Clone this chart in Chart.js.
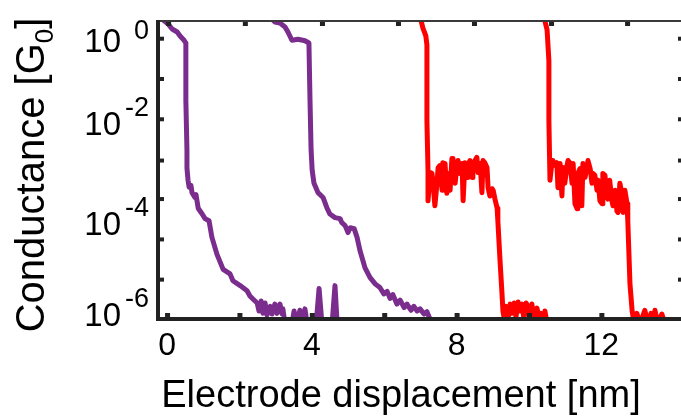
<!DOCTYPE html>
<html>
<head>
<meta charset="utf-8">
<script src="https://cdn.jsdelivr.net/npm/chart.js@4"></script>
<style>
  html,body{margin:0;padding:0;background:#fff;}
  #wrap{width:681px;height:417px;}
</style>
</head>
<body>
<div id="wrap"><canvas id="chart" width="681" height="417"></canvas></div>
<script>
/* ===== conductance traces vs electrode displacement ===== */

// axis ticks
const X_TICKS = [0, 4, 8, 12];                          // labelled bottom ticks
const X_MINOR = [0, 2, 4, 6, 8, 10, 12];                // small inward marks on the bottom
const TOP_TICKS = [0.03, 2.15, 4.28, 6.38, 8.48, 10.61, 12.71];
const SIDE_TICKS = [0.44, 0.068, 0.0105, 1.55e-3, 2.6e-4, 4.0e-5, 6.2e-6];
const Y_TICKS = [1, 1e-2, 1e-4, 1e-6];
const Y_EXP = ["0", "-2", "-4", "-6"];

// trace 1 (purple)
const P1_X = [-0.14,0.03,0.14,0.28,0.36,0.47,0.52,0.52,0.55,0.55,0.58,0.61,0.66,0.69,0.77,0.80,0.86,0.97,1.05,1.16,1.24,1.38,1.55,1.74,1.82,2.02,2.21,2.29,2.38,2.49,2.54,2.60,2.65,2.71,2.76,2.85,2.90,2.98,3.04,3.12,3.18,3.20,3.26,3.45,3.51,3.59,3.67,3.73,3.81,3.87,4.12,4.20,4.28,4.56,4.64,4.70];
const P1_G = [1.1,0.87,0.69,0.60,0.50,0.41,0.36,0.025,2.5e-3,1.1e-3,6.2e-4,4.5e-4,4.9e-4,3.5e-4,2.8e-4,3.2e-4,1.7e-4,1.3e-4,1.05e-4,9.5e-5,4.4e-5,2.0e-5,1.0e-5,8.1e-6,5.9e-6,4.7e-6,3.7e-6,2.9e-6,2.5e-6,2.1e-6,1.45e-6,2.3e-6,1.3e-6,2.1e-6,1.2e-6,1.8e-6,1.26e-6,2.0e-6,1.3e-6,2.0e-6,1.26e-6,1.6e-6,8e-7,8e-7,1.45e-6,8e-7,1.5e-6,8e-7,1.6e-6,8e-7,8e-7,4.1e-6,8e-7,8e-7,4.7e-6,8e-7];

// trace 2 (purple)
const P2_X = [2.87,2.98,3.12,3.26,3.34,3.45,3.62,3.81,3.92,3.95,3.98,4.01,4.06,4.12,4.17,4.31,4.42,4.50,4.64,4.78,4.83,4.92,5.00,5.06,5.17,5.25,5.33,5.47,5.61,5.75,5.88,5.99,6.08,6.16,6.24,6.35,6.44,6.55,6.63,6.74,6.82,6.91,6.99,7.10,7.18,7.32];
const P2_G = [1.15,0.95,0.91,0.76,0.60,0.41,0.43,0.40,0.36,0.025,2.5e-3,9.8e-4,5.4e-4,4.3e-4,3.5e-4,2.8e-4,1.7e-4,1.3e-4,1.1e-4,1.05e-4,8.7e-5,7.6e-5,5.5e-5,6.9e-5,6.6e-5,4.4e-5,2.4e-5,1.07e-5,6.8e-6,5.1e-6,4.3e-6,3.2e-6,3.6e-6,2.6e-6,3.1e-6,2.0e-6,2.4e-6,1.7e-6,2.0e-6,1.5e-6,1.8e-6,1.45e-6,1.6e-6,1.26e-6,1.4e-6,8e-7];

// trace 3 (red)
const R1_X = [6.93,7.02,7.07,7.15,7.18,7.18,7.21,7.21,7.27,7.32,7.35,7.40,7.46,7.49,7.54,7.60,7.62,7.68,7.73,7.76,7.82,7.87,7.90,7.96,8.01,8.04,8.09,8.15,8.18,8.23,8.29,8.31,8.37,8.43,8.45,8.51,8.56,8.59,8.65,8.70,8.73,8.78,8.84,8.87,8.92,8.98,9.01,9.06,9.12,9.14,9.20,9.25,9.28,9.34,9.36,9.42,9.48,9.53,9.59,9.64,9.70,9.75,9.81,9.86,9.92,9.97,10.03,10.08,10.14,10.22,10.28,10.33,10.39,10.44,10.50];
const R1_G = [1.15,1.0,0.72,0.50,0.33,0.01,9.8e-4,2.4e-4,8.9e-4,8.5e-4,5.4e-4,1.9e-4,5.6e-4,1.12e-3,1.23e-3,3.9e-4,1.4e-3,1.35e-3,3.4e-4,8.5e-4,3.9e-4,1.7e-3,1.7e-3,5.4e-4,1.23e-3,1.55e-3,8.5e-4,1.35e-3,2.4e-4,1.4e-3,7.1e-4,1.23e-3,1.55e-3,7.1e-4,1.35e-3,1.55e-3,1.8e-3,8.9e-4,1.35e-3,3.5e-4,1.55e-3,1.4e-3,1.12e-3,4.4e-4,3.0e-4,4.2e-4,3.9e-4,2.6e-4,1.7e-4,9.5e-5,1.5e-5,3.7e-6,1.45e-6,8e-7,1.8e-6,1.0e-6,2.0e-6,1.3e-6,2.1e-6,1.1e-6,2.2e-6,1.45e-6,2.0e-6,1.0e-6,2.1e-6,1.8e-6,1.26e-6,2.0e-6,1.0e-6,1.66e-6,1.0e-6,1.3e-6,8e-7,1.45e-6,8e-7];

// trace 4 (red)
const R2_X = [10.39,10.44,10.50,10.55,10.55,10.58,10.64,10.66,10.72,10.77,10.80,10.86,10.91,10.94,10.99,11.05,11.08,11.13,11.19,11.22,11.27,11.33,11.35,11.41,11.46,11.49,11.55,11.60,11.63,11.69,11.74,11.77,11.82,11.88,11.91,11.96,12.02,12.04,12.10,12.15,12.18,12.23,12.29,12.32,12.38,12.43,12.46,12.51,12.57,12.60,12.65,12.71,12.73,12.79,12.85,12.91,12.98,13.07,13.20,13.29,13.37,13.43,13.48,13.56,13.67,13.76];
const R2_G = [1.15,1.0,0.66,0.16,0.01,6.2e-4,1.55e-3,1.4e-3,1.23e-3,1.4e-3,4.4e-4,1.35e-3,3.0e-4,1.12e-3,5.4e-4,1.23e-3,1.55e-3,1.4e-3,5.4e-4,1.35e-3,2.1e-4,1.66e-4,8.5e-4,1.07e-3,1.9e-4,1.35e-3,7.1e-4,1.12e-3,1.55e-3,1.07e-3,5.4e-4,8.5e-4,7.8e-4,3.9e-4,6.2e-4,2.4e-4,2.1e-4,8.5e-4,7.8e-4,2.8e-4,2.6e-4,6.2e-4,2.4e-4,1.9e-4,3.9e-4,1.5e-4,1.4e-4,5.4e-4,3.4e-4,1.4e-4,3.9e-4,2.1e-4,9.5e-5,5.1e-6,1.45e-6,8e-7,1.3e-6,8e-7,1.5e-6,8e-7,1.3e-6,8e-7,1.5e-6,8e-7,1.26e-6,8e-7];

const PURPLE = "#7b2d8e";
const RED = "#ff0000";
const INK = "#222";
const FONT = "'Liberation Sans', Arial, sans-serif";

const pts = (xs, gs) => xs.map((x, i) => ({x, y: gs[i]}));
const trace = (xs, gs, color) => ({
  data: pts(xs, gs), borderColor: color, borderWidth: 5,
  pointRadius: 0, tension: 0, fill: false, clip: 0,
  borderJoinStyle: "round", borderCapStyle: "round"
});

// axes frame, inward ticks and labels with super/subscripts
const frame = {
  id: "frame",
  afterDraw(chart){
    const {ctx, chartArea: a, scales: {x, y}} = chart;
    ctx.save();
    ctx.fillStyle = "#3a3a3a";
    ctx.fillRect(a.left - 2, a.top - 1, a.right - a.left + 2, 2);      // top
    ctx.fillStyle = INK;
    ctx.fillRect(a.left - 2, a.top - 1, 4, a.bottom - a.top + 3);       // left
    ctx.fillRect(a.left - 2, a.bottom - 2, a.right - a.left + 2, 4);    // bottom

    X_MINOR.forEach(v => { const p = x.getPixelForValue(v); ctx.fillRect(p - 2, a.bottom - 6, 5, 4); });
    TOP_TICKS.forEach(v => { const p = x.getPixelForValue(v); ctx.fillRect(p - 2, a.top + 1, 5, 4); });
    SIDE_TICKS.forEach(v => {
      const p = y.getPixelForValue(v);
      ctx.fillRect(a.left + 2, p - 2, 4, 4);
      ctx.fillRect(a.right - 3, p - 2, 4, 4);
    });

    // y tick labels 10^n
    ctx.fillStyle = "#000";
    ctx.textAlign = "right";
    ctx.textBaseline = "alphabetic";
    Y_TICKS.forEach((v, i) => {
      const c = Math.min(Math.max(y.getPixelForValue(v) + 3, 40), 314);
      ctx.font = "33px " + FONT;
      ctx.fillText("10", a.left - 37, c + 12);
      ctx.font = "27px " + FONT;
      ctx.fillText(Y_EXP[i], a.left - 9, Math.max(c - 17, 29) + 10);
    });

    // y title with subscript
    ctx.translate(44, 175);
    ctx.rotate(-Math.PI / 2);
    ctx.textAlign = "left";
    ctx.font = "40px " + FONT;
    const main = "Conductance [G", w1 = ctx.measureText(main).width, w2 = ctx.measureText("]").width;
    ctx.font = "26px " + FONT;
    const w0 = ctx.measureText("0").width;
    const s = -(w1 + w0 + w2) / 2;
    ctx.font = "40px " + FONT;
    ctx.fillText(main, s, 0);
    ctx.fillText("]", s + w1 + w0, 0);
    ctx.font = "26px " + FONT;
    ctx.fillText("0", s + w1, 9);
    ctx.restore();

    // x title
    ctx.save();
    ctx.fillStyle = "#000";
    ctx.font = "38px " + FONT;
    ctx.textAlign = "center";
    ctx.fillText("Electrode displacement [nm]", 401, 407);
    ctx.restore();
  }
};

new Chart(document.getElementById("chart"), {
  type: "line",
  data: {
    datasets: [
      trace(P1_X, P1_G, PURPLE),
      trace(P2_X, P2_G, PURPLE),
      trace(R1_X, R1_G, RED),
      trace(R2_X, R2_G, RED)
    ]
  },
  options: {
    responsive: false,
    animation: false,
    events: [],
    layout: {padding: {top: 21, right: 0, bottom: 0, left: 0}},
    plugins: {legend: {display: false}, tooltip: {enabled: false}},
    scales: {
      x: {
        type: "linear", min: -0.25, max: 14.2,
        afterBuildTicks: s => { s.ticks = X_TICKS.map(v => ({value: v})); },
        afterFit: s => { s.height = 98; },
        grid: {display: false, drawTicks: false},
        border: {display: false},
        ticks: {color: "#000", font: {family: FONT, size: 32}, padding: 8, maxRotation: 0, autoSkip: false}
      },
      y: {
        type: "logarithmic", min: 1e-6, max: 1,
        afterBuildTicks: s => { s.ticks = Y_TICKS.map(v => ({value: v})); },
        afterFit: s => { s.width = 158; },
        grid: {display: false, drawTicks: false},
        border: {display: false},
        ticks: {display: false}
      }
    }
  },
  plugins: [frame]
});
</script>
</body>
</html>
